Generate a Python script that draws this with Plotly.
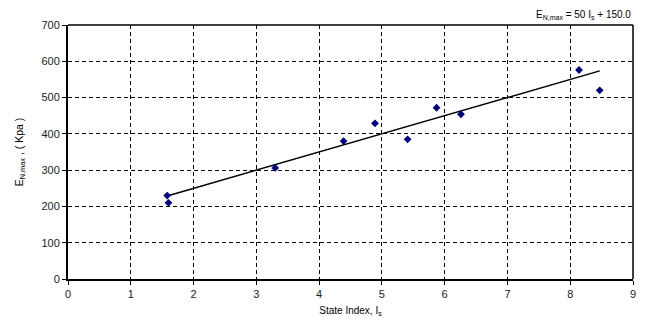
import plotly.graph_objects as go

# Measured state index and maximum normal modulus
state_index = [1.58, 1.60, 3.30, 4.39, 4.89, 5.41, 5.87, 6.26, 8.14, 8.47]
e_n_max = [230, 210, 306, 380, 429, 385, 472, 454, 576, 520]

# Linear fit coefficients: E = slope * Is + intercept
slope = 50.0
intercept = 150.0

x_ticks = [0, 1, 2, 3, 4, 5, 6, 7, 8, 9]
y_ticks = [0, 100, 200, 300, 400, 500, 600, 700]

fit_x = [min(state_index), max(state_index)]
fit_y = [slope * v + intercept for v in fit_x]

fig = go.Figure()

fig.add_trace(go.Scatter(
    x=fit_x, y=fit_y, mode="lines",
    line=dict(color="black", width=1.5),
    showlegend=False, hoverinfo="skip",
))
fig.add_trace(go.Scatter(
    x=state_index, y=e_n_max, mode="markers",
    marker=dict(symbol="diamond", color="#000080", size=6),
    showlegend=False,
))

font = "Liberation Sans, Arial, sans-serif"

fig.update_layout(
    width=650, height=327,
    margin=dict(l=68, r=17, t=25, b=48),
    paper_bgcolor="white", plot_bgcolor="white",
    font=dict(family=font, size=11, color="black"),
    xaxis=dict(
        range=[0, 9], tickvals=x_ticks, ticks="outside", ticklen=4,
        tickcolor="black", tickfont=dict(size=11, color="#222"),
        showline=True, linecolor="black", linewidth=2, mirror=False,
        showgrid=True, gridcolor="black", gridwidth=1, griddash="4px,3px",
        zeroline=False,
        title=dict(text="State Index, I<sub>s</sub>", font=dict(size=10), standoff=8),
    ),
    yaxis=dict(
        range=[0, 700], tickvals=y_ticks, ticks="outside", ticklen=4,
        tickcolor="black", tickfont=dict(size=11, color="#222"),
        showline=True, linecolor="black", linewidth=2, mirror=False,
        showgrid=True, gridcolor="black", gridwidth=1, griddash="4px,3px",
        zeroline=False,
        title=dict(text="E<sub>N,max</sub> , ( Kpa )", font=dict(size=10.5), standoff=16),
    ),
    shapes=[
        # solid frame on the top and right edges
        dict(type="line", xref="paper", yref="paper", x0=0, x1=1, y0=1, y1=1,
             line=dict(color="black", width=1.5)),
        dict(type="line", xref="paper", yref="paper", x0=1, x1=1, y0=0, y1=1,
             line=dict(color="black", width=1.5)),
    ],
    annotations=[
        dict(text="E<sub>N,max</sub> = 50 I<sub>s</sub> + 150.0",
             xref="paper", yref="paper", x=1, y=1, xanchor="right", yanchor="bottom",
             yshift=2, showarrow=False, font=dict(size=10)),
    ],
)

fig.write_html("out.html")
